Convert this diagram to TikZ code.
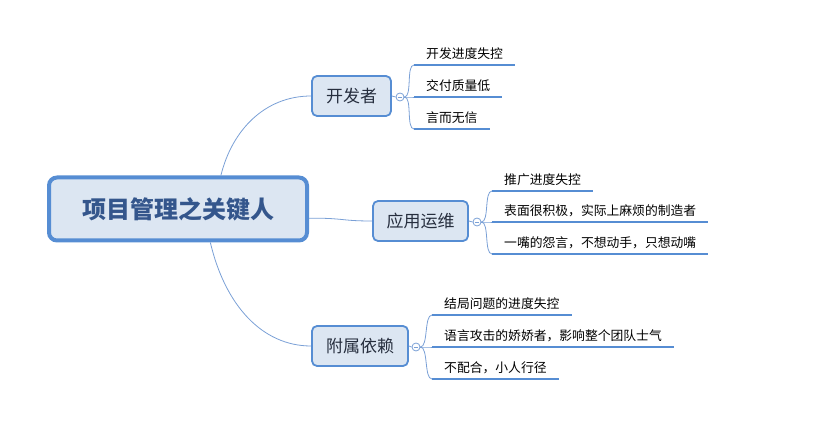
\documentclass[tikz,border=0pt]{standalone}
\usepackage{fontspec}
\setmainfont{Noto Sans CJK SC}
\usepackage{tikz}
\usetikzlibrary{positioning, calc, backgrounds}
\definecolor{mapblue}{RGB}{86,141,211}
\definecolor{linkblue}{RGB}{122,160,214}
\definecolor{boxfill}{RGB}{220,230,242}
\definecolor{roottext}{RGB}{52,86,140}
\definecolor{titletext}{RGB}{38,46,62}

\begin{document}
\begin{tikzpicture}[x=1pt, y=-1pt,
  rootbox/.style={draw=mapblue, line width=4pt, fill=boxfill, rounded corners=8pt, minimum width=258pt, minimum height=63pt, font=\fontsize{24}{28}\selectfont\bfseries, text=roottext},
  topic/.style={draw=mapblue, line width=1.8pt, fill=boxfill, rounded corners=5pt, minimum height=40pt, font=\fontsize{17}{20}\selectfont, text=titletext},
  toggle/.style={circle, draw=linkblue, line width=0.8pt, fill=white, minimum size=8pt, inner sep=0pt,
    path picture={\draw[linkblue, line width=0.6pt] ([xshift=1.8pt]path picture bounding box.west) -- ([xshift=-1.8pt]path picture bounding box.east);}},
  leaf/.style={anchor=south west, inner xsep=12pt, inner ysep=5pt, font=\fontsize{12.8}{15}\selectfont, text=black},
  uline/.style={mapblue, line width=2.6pt},
  conn/.style={linkblue, line width=0.8pt}
]
  \useasboundingbox (0,0) rectangle (827,443);

  % ── Root ──
  \node[rootbox] (root) at (178,209) {项目管理之关键人};

  % ── Topics ──
  \node[topic, minimum width=79pt] (dev) at (351.5,96) {开发者};
  \node[topic, minimum width=95pt] (ops) at (420.5,221) {应用运维};
  \node[topic, minimum width=96pt] (dep) at (360,346) {附属依赖};

  \draw[conn] (root.38) .. controls (232,130) and (265,96) .. (dev.west);
  \draw[conn] (root.-4) .. controls (345,218) and (340,221) .. (ops.west);
  \draw[conn] (root.-46) .. controls (225,305) and (262,346) .. (dep.west);

  % ── Collapse toggles ──
  \node[toggle] (devt) at (400,97) {};
  \node[toggle] (opst) at (477,222) {};
  \node[toggle] (dept) at (416,347) {};

  \draw[conn] (dev.east) -- (devt.west);
  \draw[conn] (ops.east) -- (opst.west);
  \draw[conn] (dep.east) -- (dept.west);

  % ── Leaves ──
  \node[leaf] (dev1) at (414,65) {开发进度失控};
  \node[leaf] (dev2) at (414,97) {交付质量低};
  \node[leaf] (dev3) at (414,129) {言而无信};

  \node[leaf] (ops1) at (492,191) {推广进度失控};
  \node[leaf] (ops2) at (492,222) {表面很积极，实际上麻烦的制造者};
  \node[leaf] (ops3) at (492,254) {一嘴的怨言，不想动手，只想动嘴};

  \node[leaf] (dep1) at (432,315) {结局问题的进度失控};
  \node[leaf] (dep2) at (432,347) {语言攻击的娇娇者，影响整个团队士气};
  \node[leaf] (dep3) at (432,379) {不配合，小人行径};

  \foreach \t/\l in {devt/dev1, devt/dev2, devt/dev3, opst/ops1, opst/ops2, opst/ops3, dept/dep1, dept/dep2, dept/dep3} {
    \draw[conn] (\t.east) .. controls +(8,0) and +(-8,0) .. (\l.south west);
    \draw[uline] (\l.south west) -- (\l.south east);
  }
\end{tikzpicture}
\end{document}
